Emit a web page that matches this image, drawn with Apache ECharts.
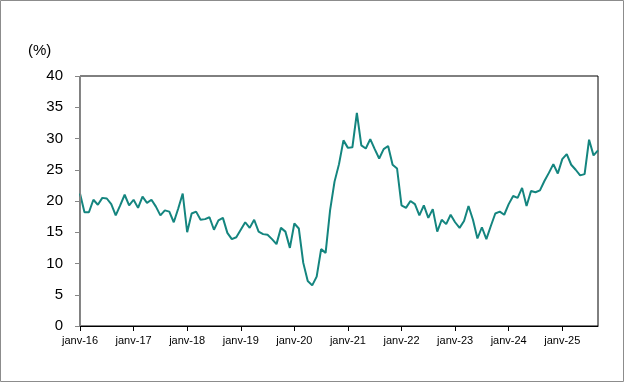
<!DOCTYPE html>
<html>
<head>
<meta charset="utf-8">
<script src="https://cdn.jsdelivr.net/npm/echarts@6/dist/echarts.min.js"></script>
<style>
html,body{margin:0;padding:0;background:#fff;}
#c{width:624px;height:382px;}
</style>
</head>
<body>
<div id="c"></div>
<script>
// Monthly series, janv-16 to sept-25 (%)
const monthNames = ['janv','févr','mars','avr','mai','juin','juil','août','sept','oct','nov','déc'];
const years = ['16','17','18','19','20','21','22','23','24','25'];
const values = [
  21.2, 18.2, 18.2, 20.2, 19.4, 20.5, 20.4, 19.5, 17.7, 19.3, 21.0, 19.3,
  20.2, 18.9, 20.7, 19.7, 20.2, 19.1, 17.7, 18.5, 18.3, 16.6, 18.8, 21.2,
  15.0, 18.0, 18.3, 17.0, 17.1, 17.4, 15.4, 16.9, 17.3, 14.9, 13.9, 14.2,
  15.4, 16.6, 15.7, 17.0, 15.1, 14.7, 14.6, 13.9, 13.1, 15.7, 15.1, 12.5,
  16.4, 15.6, 10.1, 7.2, 6.5, 7.9, 12.3, 11.7, 18.5, 23.1, 25.9, 29.7,
  28.5, 28.6, 34.1, 28.9, 28.4, 29.9, 28.3, 26.8, 28.3, 28.8, 25.8, 25.2,
  19.3, 18.9, 20.0, 19.5, 17.7, 19.3, 17.3, 18.7, 15.1, 17.0, 16.3, 17.8,
  16.6, 15.7, 16.8, 19.2, 17.0, 14.0, 15.8, 13.9, 16.0, 18.0, 18.3, 17.8,
  19.5, 20.8, 20.5, 22.1, 19.2, 21.6, 21.4, 21.7, 23.2, 24.5, 25.9, 24.4,
  26.7, 27.5, 25.8, 25.0, 24.1, 24.3, 29.8, 27.3, 28.1
];
const categories = [];
for (let i = 0; i < values.length; i++) {
  categories.push(monthNames[i % 12] + '-' + years[Math.floor(i / 12)]);
}
const yMin = 0, yMax = 40, yStep = 5;
const unitLabel = '(%)';

const chart = echarts.init(document.getElementById('c'), null, {renderer: 'canvas'});
chart.setOption({
  animation: false,
  backgroundColor: '#fff',
  textStyle: {fontFamily: 'Liberation Sans, Arial, sans-serif'},
  grid: {
    left: 80, right: 26, top: 76, bottom: 56,
    show: true, borderColor: '#000', borderWidth: 1, backgroundColor: 'transparent'
  },
  graphic: [
    {type: 'rect', shape: {x: 0.5, y: 0.5, width: 623, height: 381},
     style: {fill: 'none', stroke: '#8c8c8c', lineWidth: 1}, z: 100, silent: true},
    {type: 'text', left: 28, top: 43,
     style: {text: unitLabel, font: '15px "Liberation Sans", Arial, sans-serif', fill: '#000'}}
  ],
  xAxis: {
    type: 'category',
    data: categories,
    boundaryGap: false,
    z: 5,
    axisLine: {show: true, lineStyle: {color: '#000', width: 1}},
    axisTick: {show: true, length: 5, lineStyle: {color: '#000'},
      interval: function (i) { return i % 12 === 0; }},
    axisLabel: {
      interval: function (i) { return i % 12 === 0; },
      color: '#000', fontSize: 11, margin: 9,
      fontFamily: 'Liberation Sans, Arial, sans-serif'
    },
    splitLine: {show: false}
  },
  yAxis: {
    type: 'value',
    min: yMin, max: yMax, interval: yStep,
    z: 5,
    axisLine: {show: true, lineStyle: {color: '#868686', width: 1}},
    axisTick: {show: true, length: 5, lineStyle: {color: '#868686'}},
    axisLabel: {color: '#000', fontSize: 15, margin: 17,
      fontFamily: 'Liberation Sans, Arial, sans-serif'},
    splitLine: {show: false}
  },
  series: [{
    type: 'line',
    data: values,
    symbol: 'none',
    lineStyle: {color: '#14857f', width: 2},
    z: 3
  }]
});
</script>
</body>
</html>
